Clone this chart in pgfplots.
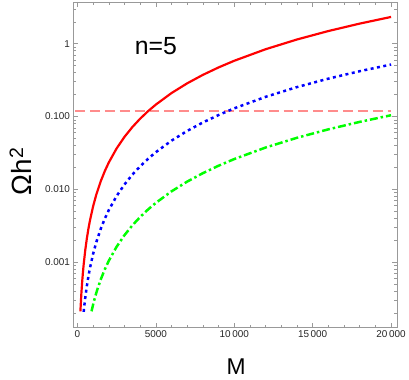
\documentclass[border=0pt]{standalone}
\usepackage{fontspec}
\setmainfont{Liberation Sans}
\usepackage{pgfplots}
\pgfplotsset{compat=1.18}
\definecolor{frame}{gray}{0.6}
\definecolor{pinkline}{rgb}{1,0.55,0.55}
\definecolor{grn}{rgb}{0,1,0}

\pgfplotstableread{
M      v
190    2.10e-4
250    3.64e-4
300    5.24e-4
350    7.14e-4
400    9.32e-4
500    1.456e-3
600    2.097e-3
700    2.854e-3
800    3.728e-3
1000   5.825e-3
1200   8.388e-3
1500   1.311e-2
1750   1.784e-2
2000   2.33e-2
2500   3.641e-2
3000   5.24e-2
3500   7.136e-2
4000   9.32e-2
4500   0.118
5000   0.1456
6000   0.2097
7000   0.2854
8000   0.3728
9000   0.4718
10000  0.5825
12000  0.8388
14000  1.1417
16000  1.4912
18000  1.8873
20000  2.33
}\redtab

\pgfplotstableread{
M      v
400    2.068e-4
450    2.617e-4
500    3.23e-4
600    4.653e-4
700    6.33e-4
800    8.272e-4
1000   1.293e-3
1200   1.861e-3
1500   2.908e-3
1750   3.958e-3
2000   5.17e-3
2500   8.078e-3
3000   1.163e-2
3500   1.583e-2
4000   2.068e-2
4500   2.617e-2
5000   3.231e-2
6000   4.653e-2
7000   6.333e-2
8000   8.272e-2
9000   0.1047
10000  0.1293
12000  0.1861
14000  0.2533
16000  0.3309
18000  0.4188
20000  0.517
}\bluetab

\pgfplotstableread{
M      v
900    2.106e-4
1000   2.6e-4
1100   3.146e-4
1200   3.744e-4
1300   4.394e-4
1500   5.85e-4
1750   7.963e-4
2000   1.04e-3
2500   1.625e-3
3000   2.34e-3
3500   3.185e-3
4000   4.16e-3
4500   5.265e-3
5000   6.5e-3
6000   9.36e-3
7000   1.274e-2
8000   1.664e-2
9000   2.106e-2
10000  2.6e-2
12000  3.744e-2
14000  5.096e-2
16000  6.656e-2
18000  8.424e-2
20000  0.104
}\greentab

\begin{document}
\begin{tikzpicture}[x=1pt,y=1pt]
\begin{axis}[
    at={(0,0)}, anchor=south west,
    scale only axis,
    width=326pt, height=328pt,
    ymode=log,
    xmin=-253, xmax=20380,
    ymin=1.26e-4, ymax=3.74,
    axis line style={frame, line width=0.6pt},
    every tick/.style={frame, line width=0.5pt},
    tick align=inside,
    major tick length=5pt,
    minor tick length=3pt,
    scaled x ticks=false,
    xtick={0,5000,10000,15000,20000},
    xticklabels={0,5000,10\,000,15\,000,20\,000},
    minor x tick num=4,
    ytick={0.001,0.01,0.1,1},
    yticklabels={0.001,0.010,0.100,1},
    minor ytick={2e-4,3e-4,4e-4,5e-4,6e-4,7e-4,8e-4,9e-4,
                 2e-3,3e-3,4e-3,5e-3,6e-3,7e-3,8e-3,9e-3,
                 2e-2,3e-2,4e-2,5e-2,6e-2,7e-2,8e-2,9e-2,
                 0.2,0.3,0.4,0.5,0.6,0.7,0.8,0.9,2,3},
    tick label style={font=\fontsize{10}{12}\selectfont, color=black!85},
    /pgf/number format/assume math mode=true,
    xlabel={M},
    ylabel={Ωh\textsuperscript{2}},
    xlabel style={font=\fontsize{23}{27}\selectfont, at={(axis description cs:0.503,-0.143)}, anchor=base},
    ylabel style={font=\fontsize{28}{32}\selectfont, at={(axis description cs:-0.163,0.48)}, anchor=center},
    clip=true,
]
\addplot[pinkline, line width=2pt, dash pattern=on 10pt off 5pt] coordinates {(-150,0.12) (20000,0.12)};
\addplot[red, line width=2.2pt, line join=round] table[x=M,y=v] {\redtab};
\addplot[blue, line width=2.5pt, dash pattern=on 3pt off 3.5pt] table[x=M,y=v] {\bluetab};
\addplot[grn, line width=2.5pt, dash pattern=on 8pt off 3pt on 2.5pt off 3pt] table[x=M,y=v] {\greentab};
\node[font=\fontsize{25}{29}\selectfont] at (axis description cs:0.255,0.864) {n=5};
\end{axis}
\path[use as bounding box] (-74,-52) rectangle (335,330);
\end{tikzpicture}
\end{document}
